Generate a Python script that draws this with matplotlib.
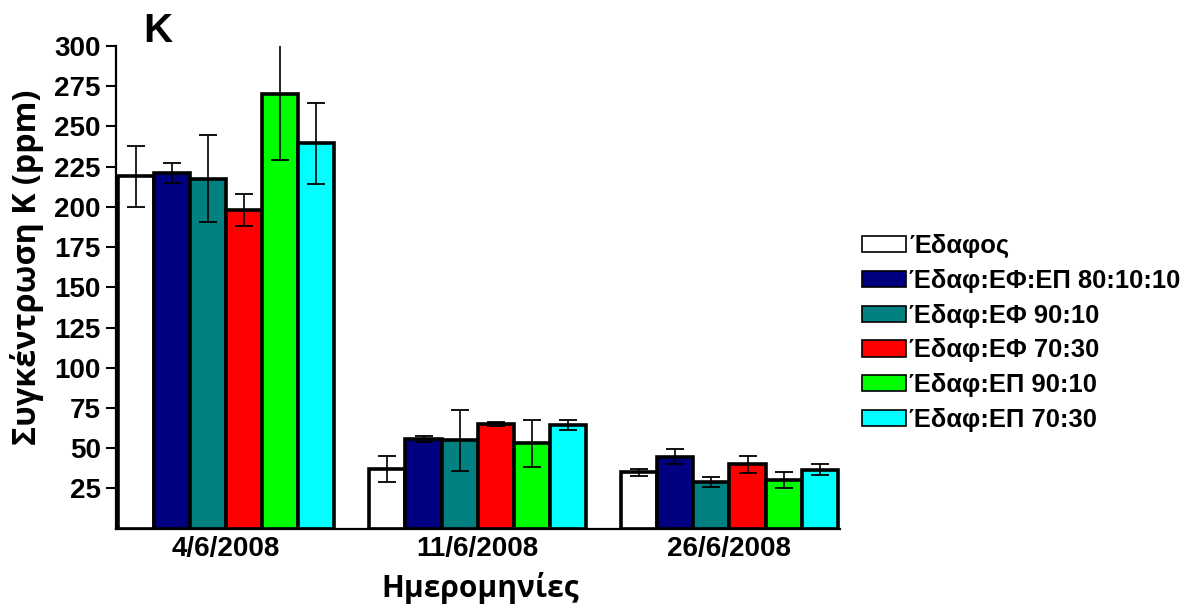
import numpy as np
import matplotlib
matplotlib.use("Agg")
import matplotlib.pyplot as plt
from matplotlib.patches import Patch

# Sampling dates and treatments
dates = ["4/6/2008", "11/6/2008", "26/6/2008"]
treatments = ["Έδαφος", "Έδαφ:ΕΦ:ΕΠ 80:10:10", "Έδαφ:ΕΦ 90:10",
              "Έδαφ:ΕΦ 70:30", "Έδαφ:ΕΠ 90:10", "Έδαφ:ΕΠ 70:30"]
colors = ["#FFFFFF", "#000080", "#008080", "#FF0000", "#00FF00", "#00FFFF"]

# Mean K concentration (ppm), one list per treatment across dates
soil = [219, 37, 35]
soil_ef_ep_801010 = [221, 55.8, 44.8]
soil_ef_9010 = [217.5, 55, 29]
soil_ef_7030 = [198, 65.3, 40]
soil_ep_9010 = [270, 53, 30.5]
soil_ep_7030 = [239.5, 64.5, 36.5]

# Standard errors
soil_err = [19, 8, 2]
soil_ef_ep_801010_err = [6, 1.8, 4.5]
soil_ef_9010_err = [27, 19, 3.3]
soil_ef_7030_err = [10, 1.3, 5.2]
soil_ep_9010_err = [41, 14.5, 5]
soil_ep_7030_err = [25, 3.3, 3.4]

y_ticks = [25, 50, 75, 100, 125, 150, 175, 200, 225, 250, 275, 300]

means = [soil, soil_ef_ep_801010, soil_ef_9010, soil_ef_7030, soil_ep_9010, soil_ep_7030]
errs = [soil_err, soil_ef_ep_801010_err, soil_ef_9010_err, soil_ef_7030_err,
        soil_ep_9010_err, soil_ep_7030_err]

num_font = "Liberation Sans"
greek_font = "Open Sans"

fig = plt.figure(figsize=(11.96, 6.10), dpi=100)
ax = fig.add_axes([0.097, 0.1333, 0.605, 0.7913])

x = np.arange(len(dates))
n = len(treatments)
w = 0.143
for i in range(n):
    pos = x + (i - (n - 1) / 2) * w
    ax.bar(pos, means[i], width=w, color=colors[i], edgecolor="black",
           linewidth=2.6, zorder=2)
    ax.errorbar(pos, means[i], yerr=errs[i], fmt="none", ecolor="black",
                elinewidth=1.2, capsize=6.5, capthick=1.3, zorder=3)

ax.set_ylim(0, 300)
ax.set_xlim(-0.435, 2.437)
ax.set_yticks(y_ticks)
ax.set_yticklabels([str(t) for t in y_ticks], fontfamily=num_font,
                   fontweight="bold", fontsize=20)
ax.set_xticks(x)
ax.set_xticklabels(dates, fontfamily=num_font, fontweight="bold", fontsize=20)
ax.tick_params(axis="y", direction="out", length=7, width=1.5, pad=4)
ax.tick_params(axis="x", length=0, pad=5.5)

for side in ("top", "right"):
    ax.spines[side].set_visible(False)
for side in ("left", "bottom"):
    ax.spines[side].set_linewidth(1.6)

fig.text(27 / 1196, 1 - 267 / 610, "Συγκέντρωση K (ppm)", rotation=90,
         ha="center", va="center", fontfamily=greek_font, fontweight="bold",
         fontsize=23.2)
fig.text(480 / 1196, 1 - 597 / 610, "Ημερομηνίες", ha="center",
         va="baseline", fontfamily=greek_font, fontweight="bold", fontsize=21.5)
fig.text(143 / 1196, 1 - 42 / 610, "K", ha="left", va="baseline",
         fontfamily=num_font, fontweight="bold", fontsize=29)

handles = [Patch(facecolor=c, edgecolor="black", linewidth=1.2) for c in colors]
fig.legend(handles, treatments, loc="center left",
           bbox_to_anchor=(862 / 1196, 1 - 333 / 610), frameon=False,
           prop={"family": num_font, "weight": "bold", "size": 18.4},
           handlelength=1.72, handleheight=0.6, handletextpad=0.12,
           labelspacing=0.42, borderaxespad=0, borderpad=0)

fig.savefig("out.png", dpi=100)
